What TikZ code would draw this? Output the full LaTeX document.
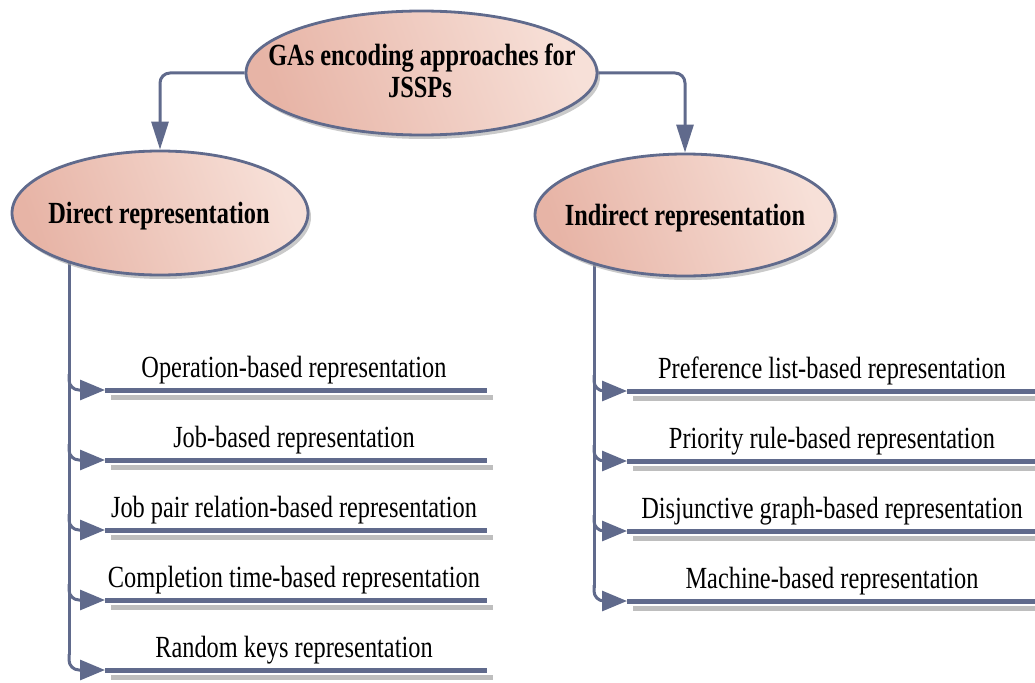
\documentclass[tikz,border=0pt]{standalone}
\usepackage{fontspec}
\setmainfont{Liberation Serif}
\usetikzlibrary{arrows.meta,shapes.geometric,shadows,backgrounds,calc}
\definecolor{lc}{RGB}{96,106,140}
\definecolor{ella}{RGB}{231,180,166}
\definecolor{ellb}{RGB}{247,224,216}
\definecolor{shd}{RGB}{190,190,190}
\newcommand{\tx}[1]{\scalebox{0.84}[1.06]{#1}}
\begin{document}
\begin{tikzpicture}[x=1pt,y=-1pt,
  ell/.style={ellipse, draw=lc, line width=2.8pt, inner sep=0pt,
    left color=ella, right color=ellb, shading angle=110,
    drop shadow={shadow xshift=3pt, shadow yshift=-4pt, fill=black!35, opacity=0.6}},
  ttl/.style={font=\fontsize{29}{34}\selectfont\bfseries, inner sep=0pt, anchor=base},
  lbl/.style={font=\fontsize{29}{34}\selectfont, inner sep=0pt, anchor=base},
  conn/.style={draw=lc, line width=3pt, rounded corners=10pt},
  down/.style={conn, -{Triangle[length=28pt, width=17pt]}},
  branch/.style={conn, -{Triangle[length=25pt, width=20pt]}},
  bar/.style={draw=lc, line width=5pt},
  barshadow/.style={draw=shd, line width=5pt}
]
\useasboundingbox (0,0) rectangle (1035,682);

% ellipses
\node[ell, minimum width=351pt, minimum height=124pt] (top) at (421.5,73) {};
\node[ell, minimum width=296pt, minimum height=124pt] (direct) at (160,213) {};
\node[ell, minimum width=300pt, minimum height=122pt] (indirect) at (685,215) {};

% titles
\node[ttl] (t1) at (422,66) {\tx{GAs encoding approaches for}};
\node[ttl] (t2) at (420,98) {\tx{JSSPs}};
\node[ttl] (dt) at (159,223) {\tx{Direct representation}};
\node[ttl] (it) at (685,225) {\tx{Indirect representation}};

% top connectors
\draw[down] (top.west) -| (direct.north);
\draw[down] (top.east) -| (indirect.north);

% bar start coordinates
\coordinate (d1s) at (105,390);
\coordinate (d2s) at (105,460);
\coordinate (d3s) at (105,530);
\coordinate (d4s) at (105,600);
\coordinate (d5s) at (105,670);
\coordinate (i1s) at (627,391);
\coordinate (i2s) at (627,461);
\coordinate (i3s) at (627,531);
\coordinate (i4s) at (627,601);

% labels
\node[lbl] (d1) at (294,377) {\tx{Operation-based representation}};
\node[lbl] (d2) at (294,447) {\tx{Job-based representation}};
\node[lbl] (d3) at (294,517) {\tx{Job pair relation-based representation}};
\node[lbl] (d4) at (294,587) {\tx{Completion time-based representation}};
\node[lbl] (d5) at (294,657) {\tx{Random keys representation}};
\node[lbl] (i1) at (832,378) {\tx{Preference list-based representation}};
\node[lbl] (i2) at (832,448) {\tx{Priority rule-based representation}};
\node[lbl] (i3) at (832,518) {\tx{Disjunctive graph-based representation}};
\node[lbl] (i4) at (832,588) {\tx{Machine-based representation}};

% bars with shadows
\foreach \c in {d1s,d2s,d3s,d4s,d5s} {
  \draw[barshadow] ($(\c)+(6,7)$) -- ++(382,0);
  \draw[bar] (\c) -- ++(382,0);
}
\foreach \c in {i1s,i2s,i3s,i4s} {
  \draw[barshadow] ($(\c)+(6,7)$) -- ++(420,0);
  \draw[bar] (\c) -- ++(420,0);
}

% trunks and branches
\begin{scope}[on background layer]
\draw[conn] (69,250) -- (69,655);
\draw[conn] (594,250) -- (594,588);
\end{scope}
\foreach \c in {d1s,d2s,d3s,d4s,d5s} {
  \draw[branch] ($(\c)+(-36,-16)$) |- (\c);
}
\foreach \c in {i1s,i2s,i3s,i4s} {
  \draw[branch] ($(\c)+(-33,-16)$) |- (\c);
}
\end{tikzpicture}
\end{document}
